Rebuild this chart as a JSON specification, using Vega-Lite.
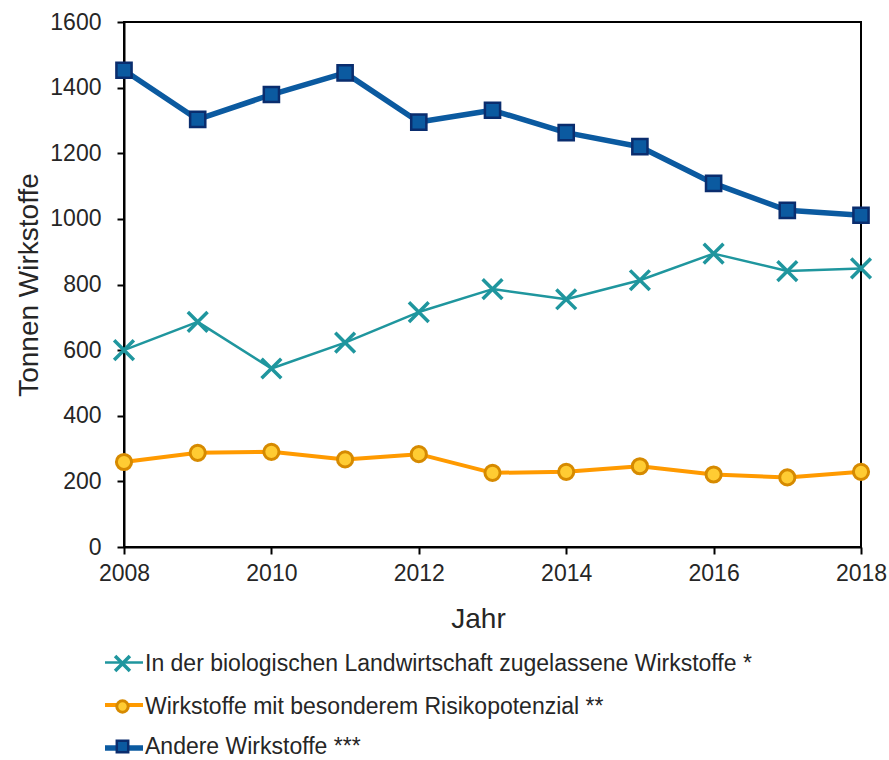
{
  "$schema": "https://vega.github.io/schema/vega-lite/v6.json",
  "width": 737,
  "height": 525,
  "autosize": {"type": "none"},
  "padding": {"left": 124, "top": 22, "right": 28, "bottom": 213},
  "background": "white",
  "config": {
    "font": "Liberation Sans",
    "view": {"stroke": "#000000", "strokeWidth": 2},
    "axis": {
      "domainColor": "#000000",
      "domainWidth": 2,
      "tickColor": "#000000",
      "tickWidth": 2,
      "tickSize": 7,
      "grid": false,
      "labelFont": "Liberation Sans",
      "labelFontSize": 23,
      "labelColor": "#262626",
      "titleFont": "Liberation Sans",
      "titleFontSize": 28,
      "titleFontWeight": "normal",
      "titleColor": "#262626"
    },
    "legend": {
      "labelFont": "Liberation Sans",
      "labelFontSize": 23,
      "labelColor": "#262626",
      "labelLimit": 800
    }
  },
  "data": {
    "values": [
      {"year": 2008, "series": "In der biologischen Landwirtschaft zugelassene Wirkstoffe *", "value": 600},
      {"year": 2009, "series": "In der biologischen Landwirtschaft zugelassene Wirkstoffe *", "value": 686},
      {"year": 2010, "series": "In der biologischen Landwirtschaft zugelassene Wirkstoffe *", "value": 544},
      {"year": 2011, "series": "In der biologischen Landwirtschaft zugelassene Wirkstoffe *", "value": 623},
      {"year": 2012, "series": "In der biologischen Landwirtschaft zugelassene Wirkstoffe *", "value": 716},
      {"year": 2013, "series": "In der biologischen Landwirtschaft zugelassene Wirkstoffe *", "value": 786},
      {"year": 2014, "series": "In der biologischen Landwirtschaft zugelassene Wirkstoffe *", "value": 755},
      {"year": 2015, "series": "In der biologischen Landwirtschaft zugelassene Wirkstoffe *", "value": 813},
      {"year": 2016, "series": "In der biologischen Landwirtschaft zugelassene Wirkstoffe *", "value": 894},
      {"year": 2017, "series": "In der biologischen Landwirtschaft zugelassene Wirkstoffe *", "value": 841},
      {"year": 2018, "series": "In der biologischen Landwirtschaft zugelassene Wirkstoffe *", "value": 849},
      {"year": 2008, "series": "Wirkstoffe mit besonderem Risikopotenzial **", "value": 259},
      {"year": 2009, "series": "Wirkstoffe mit besonderem Risikopotenzial **", "value": 287},
      {"year": 2010, "series": "Wirkstoffe mit besonderem Risikopotenzial **", "value": 290},
      {"year": 2011, "series": "Wirkstoffe mit besonderem Risikopotenzial **", "value": 267},
      {"year": 2012, "series": "Wirkstoffe mit besonderem Risikopotenzial **", "value": 283},
      {"year": 2013, "series": "Wirkstoffe mit besonderem Risikopotenzial **", "value": 226},
      {"year": 2014, "series": "Wirkstoffe mit besonderem Risikopotenzial **", "value": 229},
      {"year": 2015, "series": "Wirkstoffe mit besonderem Risikopotenzial **", "value": 246},
      {"year": 2016, "series": "Wirkstoffe mit besonderem Risikopotenzial **", "value": 221},
      {"year": 2017, "series": "Wirkstoffe mit besonderem Risikopotenzial **", "value": 212},
      {"year": 2018, "series": "Wirkstoffe mit besonderem Risikopotenzial **", "value": 229},
      {"year": 2008, "series": "Andere Wirkstoffe ***", "value": 1453},
      {"year": 2009, "series": "Andere Wirkstoffe ***", "value": 1303},
      {"year": 2010, "series": "Andere Wirkstoffe ***", "value": 1379},
      {"year": 2011, "series": "Andere Wirkstoffe ***", "value": 1445},
      {"year": 2012, "series": "Andere Wirkstoffe ***", "value": 1295},
      {"year": 2013, "series": "Andere Wirkstoffe ***", "value": 1331},
      {"year": 2014, "series": "Andere Wirkstoffe ***", "value": 1263},
      {"year": 2015, "series": "Andere Wirkstoffe ***", "value": 1220},
      {"year": 2016, "series": "Andere Wirkstoffe ***", "value": 1108},
      {"year": 2017, "series": "Andere Wirkstoffe ***", "value": 1026},
      {"year": 2018, "series": "Andere Wirkstoffe ***", "value": 1011}
    ]
  },
  "encoding": {
    "x": {
      "field": "year",
      "type": "quantitative",
      "scale": {"domain": [2008, 2018], "nice": false, "zero": false},
      "axis": {
        "values": [2008, 2010, 2012, 2014, 2016, 2018],
        "format": "d",
        "title": "Jahr",
        "labelPadding": 8,
        "titlePadding": 20,
        "titleX": 354,
        "labelFlush": false
      }
    },
    "y": {
      "field": "value",
      "type": "quantitative",
      "scale": {"domain": [0, 1600], "nice": false},
      "axis": {
        "values": [0, 200, 400, 600, 800, 1000, 1200, 1400, 1600],
        "format": "d",
        "title": "Tonnen Wirkstoffe",
        "labelPadding": 16,
        "titlePadding": 6
      }
    }
  },
  "layer": [
    {
      "mark": {"type": "line", "strokeJoin": "round"},
      "encoding": {
        "color": {
          "field": "series",
          "type": "nominal",
          "scale": {
            "domain": ["In der biologischen Landwirtschaft zugelassene Wirkstoffe *", "Wirkstoffe mit besonderem Risikopotenzial **", "Andere Wirkstoffe ***"],
            "range": ["#1F969E", "#FF9A00", "#0B5AA0"]
          },
          "legend": {
            "title": null,
            "orient": "none",
            "legendX": -22,
            "legendY": 620,
            "symbolType": "stroke",
            "symbolSize": 1444,
            "symbolStrokeWidth": 4,
            "rowPadding": 9,
            "labelOffset": 3,
            "labelExpr": "''"
          }
        },
        "strokeWidth": {
          "field": "series",
          "type": "nominal",
          "scale": {
            "domain": ["In der biologischen Landwirtschaft zugelassene Wirkstoffe *", "Wirkstoffe mit besonderem Risikopotenzial **", "Andere Wirkstoffe ***"],
            "range": [2.5, 5.5, 5.5]
          },
          "legend": null
        }
      }
    },
    {
      "mark": {"type": "point", "filled": true, "size": 230, "opacity": 1},
      "encoding": {
        "color": {
          "field": "series",
          "type": "nominal",
          "scale": {
            "domain": ["In der biologischen Landwirtschaft zugelassene Wirkstoffe *", "Wirkstoffe mit besonderem Risikopotenzial **", "Andere Wirkstoffe ***"],
            "range": ["#1F969E", "#FFCC33", "#0B5AA0"]
          },
          "legend": {
            "title": null,
            "orient": "none",
            "legendX": -13,
            "legendY": 630,
            "symbolSize": 130,
            "symbolStrokeWidth": 2,
            "rowPadding": 16,
            "labelOffset": 11
          }
        },
        "stroke": {
          "field": "series",
          "type": "nominal",
          "scale": {
            "domain": ["In der biologischen Landwirtschaft zugelassene Wirkstoffe *", "Wirkstoffe mit besonderem Risikopotenzial **", "Andere Wirkstoffe ***"],
            "range": ["#1F969E", "#D68A00", "#0A2D6E"]
          },
          "legend": {
            "title": null,
            "orient": "none",
            "legendX": -13,
            "legendY": 630,
            "symbolSize": 130,
            "symbolStrokeWidth": 2,
            "rowPadding": 16,
            "labelOffset": 11
          }
        },
        "shape": {
          "field": "series",
          "type": "nominal",
          "scale": {
            "domain": ["In der biologischen Landwirtschaft zugelassene Wirkstoffe *", "Wirkstoffe mit besonderem Risikopotenzial **", "Andere Wirkstoffe ***"],
            "range": ["M-1.3,-1.3L1.3,1.3M1.3,-1.3L-1.3,1.3", "circle", "square"]
          },
          "legend": {
            "title": null,
            "orient": "none",
            "legendX": -13,
            "legendY": 630,
            "symbolSize": 130,
            "symbolStrokeWidth": 2,
            "rowPadding": 16,
            "labelOffset": 11
          }
        },
        "strokeWidth": {
          "field": "series",
          "type": "nominal",
          "scale": {
            "domain": ["In der biologischen Landwirtschaft zugelassene Wirkstoffe *", "Wirkstoffe mit besonderem Risikopotenzial **", "Andere Wirkstoffe ***"],
            "range": [3.5, 2.5, 2.5]
          },
          "legend": null
        }
      }
    }
  ],
  "resolve": {
    "scale": {"color": "independent", "stroke": "independent", "shape": "independent", "strokeWidth": "independent"},
    "legend": {"color": "independent", "stroke": "independent", "shape": "independent"}
  }
}
